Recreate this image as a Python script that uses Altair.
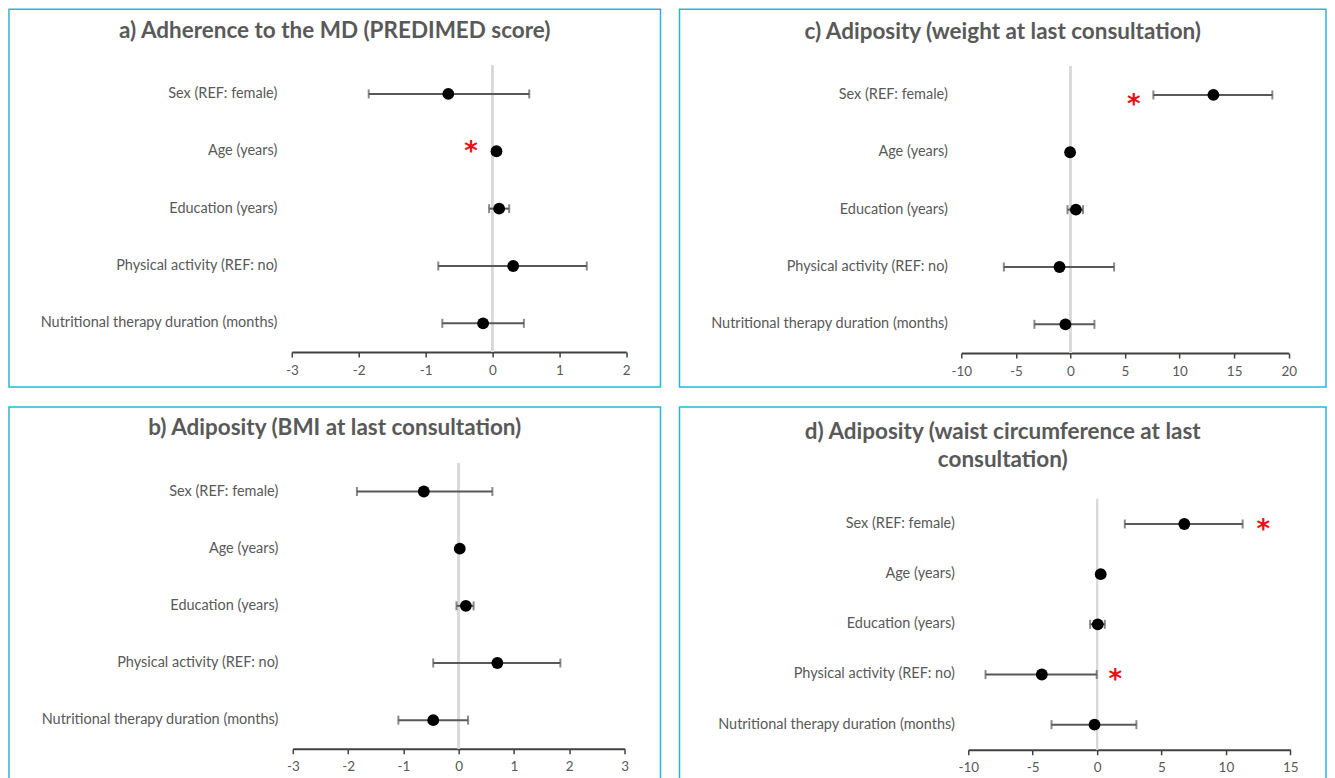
import altair as alt
import pandas as pd

categories = [
    "Sex (REF: female)",
    "Age (years)",
    "Education (years)",
    "Physical activity (REF: no)",
    "Nutritional therapy duration (months)",
]

# a) Adherence to the MD (PREDIMED score)
a_est = [-0.66, 0.06, 0.10, 0.31, -0.14]
a_lo = [-1.85, 0.04, -0.05, -0.81, -0.75]
a_hi = [0.55, 0.08, 0.25, 1.41, 0.47]
a_star_cat = ["Age (years)"]
a_star_x = [-0.32]
a_ticks = [-3, -2, -1, 0, 1, 2]

# b) Adiposity (BMI at last consultation)
b_est = [-0.63, 0.02, 0.13, 0.70, -0.46]
b_lo = [-1.84, 0.00, -0.04, -0.46, -1.09]
b_hi = [0.61, 0.04, 0.27, 1.84, 0.17]
b_star_cat = []
b_star_x = []
b_ticks = [-3, -2, -1, 0, 1, 2, 3]

# c) Adiposity (weight at last consultation)
c_est = [13.1, -0.03, 0.5, -1.0, -0.46]
c_lo = [7.6, -0.15, -0.27, -6.1, -3.3]
c_hi = [18.5, 0.10, 1.15, 4.0, 2.2]
c_star_cat = ["Sex (REF: female)"]
c_star_x = [5.8]
c_ticks = [-10, -5, 0, 5, 10, 15, 20]

# d) Adiposity (waist circumference at last consultation)
d_est = [6.77, 0.28, 0.05, -4.29, -0.2]
d_lo = [2.15, 0.15, -0.54, -8.66, -3.54]
d_hi = [11.3, 0.40, 0.60, -0.03, 3.05]
d_star_cat = ["Sex (REF: female)", "Physical activity (REF: no)"]
d_star_x = [12.9, 1.42]
d_ticks = [-10, -5, 0, 5, 10, 15]

FONT = "Lato"
TXT = "#595959"
BAR = "#595959"


def panel(title, est, lo, hi, star_cat, star_x, ticks, xrange, yrange,
          label_right, width, height, title_offset, star_dy):
    df = pd.DataFrame({"cat": categories, "est": est, "lo": lo, "hi": hi})
    sdf = pd.DataFrame({"cat": star_cat, "x": star_x})
    xs = alt.Scale(domain=[ticks[0], ticks[-1]], range=xrange, nice=False, zero=False)
    ys = alt.Scale(domain=categories, range=yrange, paddingInner=0, paddingOuter=0)
    xaxis = alt.Axis(values=ticks, offset=-(height - yrange[1]), grid=False, title=None,
                     domainColor="#404040", domainWidth=2, tickColor="#404040",
                     tickWidth=1.5, tickSize=5, labelColor=TXT, labelFont=FONT,
                     labelFontSize=13.5, labelPadding=6, labelFlush=False,
                     labelOverlap=False, labelExpr="'' + datum.value")
    yaxis = alt.Axis(orient="left", offset=-label_right, domain=False, ticks=False,
                     tickSize=0, labelPadding=0, grid=False, title=None,
                     labelColor=TXT, labelFont=FONT, labelFontSize=14.5, labelLimit=500)
    base = alt.Chart(df)
    zero = base.mark_rule(color="#d9d9d9", strokeWidth=2).encode(
        x=alt.datum(0, scale=xs, axis=xaxis),
        y=alt.value(yrange[0]), y2=alt.value(yrange[1]))
    rule = base.mark_rule(color=BAR, strokeWidth=2).encode(
        x=alt.X("lo:Q", scale=xs), x2="hi:Q",
        y=alt.Y("cat:N", scale=ys, axis=yaxis, sort=None))
    cap_lo = base.mark_tick(color=BAR, thickness=2, size=9, orient="vertical").encode(
        x="lo:Q", y=alt.Y("cat:N", sort=None))
    cap_hi = base.mark_tick(color=BAR, thickness=2, size=9, orient="vertical").encode(
        x="hi:Q", y=alt.Y("cat:N", sort=None))
    pts = base.mark_circle(size=140, color="black", opacity=1).encode(
        x="est:Q", y=alt.Y("cat:N", sort=None))
    layers = [zero, rule, cap_lo, cap_hi, pts]
    if len(sdf):
        stars = alt.Chart(sdf).mark_text(text="*", color="#e8101a", fontSize=26,
                                         font="DejaVu Sans", fontWeight="bold",
                                         baseline="middle", dy=star_dy).encode(
            x="x:Q", y=alt.Y("cat:N", sort=None))
        layers.append(stars)
    return alt.layer(*layers).properties(
        width=width, height=height,
        title=alt.Title(title, font=FONT, fontSize=22.5, fontWeight="bold", color=TXT,
                        anchor="middle", frame="group", offset=title_offset,
                        lineHeight=28),
    )


pa = panel("a) Adherence to the MD (PREDIMED score)", a_est, a_lo, a_hi, a_star_cat,
           a_star_x, a_ticks, [283, 617.7], [56, 343], 268, 652, 378, -33, 1)
pc = panel("c) Adiposity (weight at last consultation)", c_est, c_lo, c_hi, c_star_cat,
           c_star_x, c_ticks, [282, 609.7], [57, 344], 268, 647, 378, -34, 10)
pb = panel("b) Adiposity (BMI at last consultation)", b_est, b_lo, b_hi, b_star_cat,
           b_star_x, b_ticks, [284, 616], [56, 342], 269, 652, 378, -33, 0)
pd_ = panel(["d) Adiposity (waist circumference at last", "consultation)"], d_est, d_lo,
            d_hi, d_star_cat, d_star_x, d_ticks, [289, 611.3], [92, 343], 275, 647, 378,
            -65, 6)

chart = alt.vconcat(
    alt.hconcat(pa, pc, spacing=17),
    alt.hconcat(pb, pd_, spacing=17),
    spacing=18,
).properties(padding=0, background="white").configure_view(
    stroke="#29b4d9", strokeWidth=1.5, fill="white"
)

chart.save("out.html", embed_options={"renderer": "svg", "actions": False})
